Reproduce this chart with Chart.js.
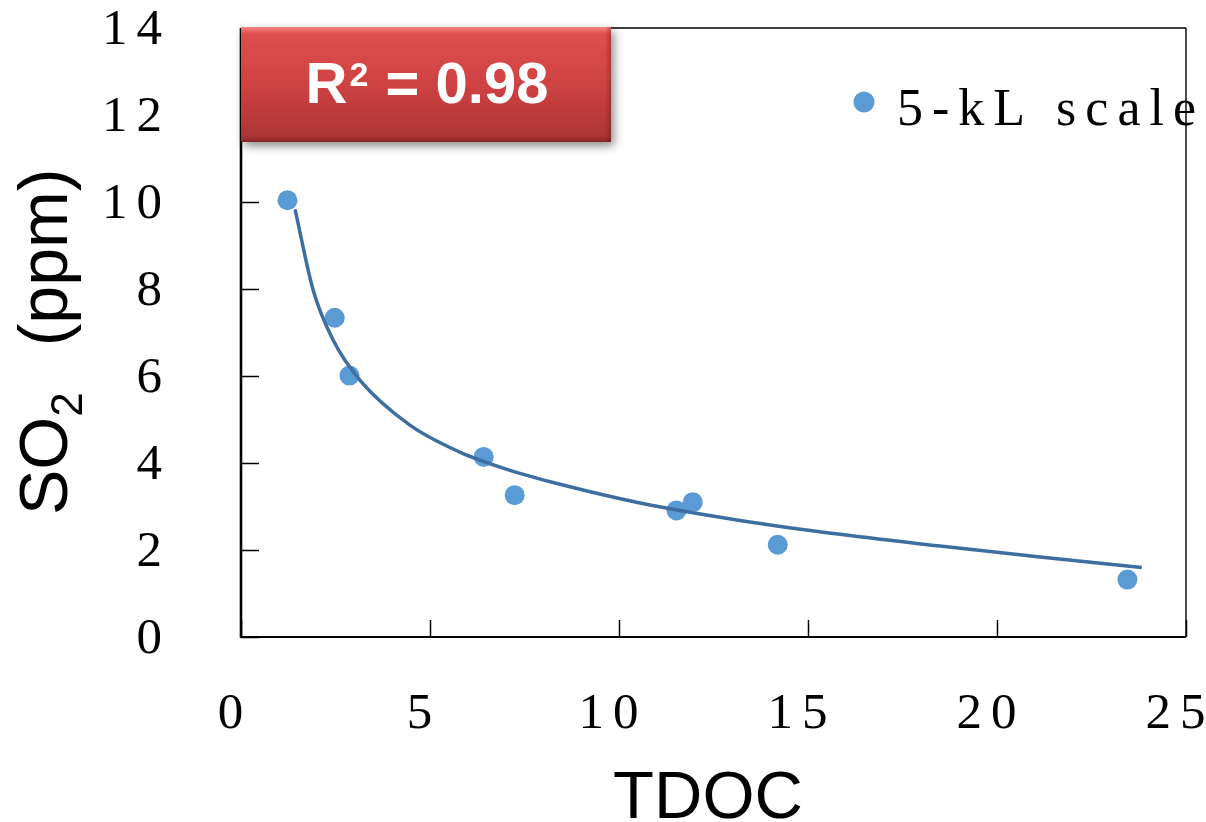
<!DOCTYPE html>
<html>
<head>
<meta charset="utf-8">
<script src="https://cdn.jsdelivr.net/npm/chart.js@4/dist/chart.umd.min.js"></script>
<style>
  html, body { margin: 0; padding: 0; background: #ffffff; }
  #wrap { width: 1206px; height: 822px; }
</style>
</head>
<body>
<div id="wrap"><canvas id="chart" width="1206" height="822"></canvas></div>
<script>
// Measured samples: TDOC vs SO2
const tdoc = [1.23, 2.48, 2.87, 6.42, 7.24, 11.52, 11.95, 14.2, 23.45];
const so2 = [10.04, 7.34, 6.01, 4.14, 3.26, 2.91, 3.1, 2.12, 1.32];

// Trend curve through the samples
const fitTdoc = [1.43, 1.91, 2.44, 3.15, 4.47, 5.79, 7.12, 8.44, 10.56, 13.2, 15.85, 18.49, 21.14, 23.83];
const fitSo2 = [9.83, 7.97, 6.82, 5.9, 4.87, 4.25, 3.83, 3.51, 3.08, 2.68, 2.36, 2.09, 1.84, 1.6];

// Axis ticks and labels
const xTicks = [0, 5, 10, 15, 20, 25];
const yTicks = [0, 2, 4, 6, 8, 10, 12, 14];
const seriesName = '5-kL scale';
const r2Base = 'R';
const r2Sup = '2';
const r2Value = ' = 0.98';
const xTitle = 'TDOC';
const yTitleMain = 'SO';
const yTitleSub = '2';
const yTitleUnit = '(ppm)';

const SERIF = '"Liberation Serif", "Times New Roman", serif';
const SANS = '"Liberation Sans", Arial, sans-serif';
const POINT_COLOR = '#5b9bd5';
const CURVE_COLOR = '#3e6d9f';

// Letter spacing for the tick labels only
const tickSpacing = {
  id: 'tickSpacing',
  beforeDraw(chart) { chart.ctx.letterSpacing = '9px'; },
  beforeDatasetsDraw(chart) { chart.ctx.letterSpacing = '0px'; }
};

function line(ctx, x1, y1, x2, y2) {
  ctx.beginPath();
  ctx.moveTo(x1, y1);
  ctx.lineTo(x2, y2);
  ctx.stroke();
}

const decor = {
  id: 'decor',
  afterDraw(chart) {
    const { ctx, chartArea: a, scales: { x, y } } = chart;
    ctx.save();
    ctx.letterSpacing = '0px';
    ctx.strokeStyle = '#000';

    // plot frame
    ctx.lineWidth = 1.4;
    line(ctx, a.left, a.top, a.right, a.top);
    line(ctx, a.right, a.top, a.right, a.bottom);
    ctx.lineWidth = 2.6;
    line(ctx, a.left, a.top, a.left, a.bottom + 1);
    ctx.lineWidth = 2;
    line(ctx, a.left, a.bottom, a.right, a.bottom);

    // inward tick marks
    ctx.lineWidth = 1.5;
    xTicks.forEach(v => {
      const px = Math.round(x.getPixelForValue(v)) + 0.5;
      line(ctx, px, a.bottom, px, a.bottom - 17);
    });
    yTicks.forEach(v => {
      const py = Math.round(y.getPixelForValue(v)) + 0.5;
      line(ctx, a.left, py, a.left + 18, py);
    });

    // R² badge
    const bx = a.left, by = a.top - 1, bw = 370, bh = 115;
    ctx.save();
    ctx.shadowColor = 'rgba(0,0,0,0.45)';
    ctx.shadowBlur = 9;
    ctx.shadowOffsetX = 3;
    ctx.shadowOffsetY = 4;
    const g = ctx.createLinearGradient(0, by, 0, by + bh);
    g.addColorStop(0, '#e24f4f');
    g.addColorStop(0.5, '#cf4242');
    g.addColorStop(1, '#a93434');
    ctx.fillStyle = g;
    ctx.fillRect(bx, by, bw, bh);
    ctx.restore();
    // bevel highlights
    const gt = ctx.createLinearGradient(0, by, 0, by + 7);
    gt.addColorStop(0, 'rgba(255,150,150,0.75)');
    gt.addColorStop(1, 'rgba(255,150,150,0)');
    ctx.fillStyle = gt;
    ctx.fillRect(bx, by, bw, 7);
    const gb = ctx.createLinearGradient(0, by + bh - 6, 0, by + bh);
    gb.addColorStop(0, 'rgba(90,20,20,0)');
    gb.addColorStop(1, 'rgba(90,20,20,0.45)');
    ctx.fillStyle = gb;
    ctx.fillRect(bx, by + bh - 6, bw, 6);
    const gr = ctx.createLinearGradient(bx + bw - 6, 0, bx + bw, 0);
    gr.addColorStop(0, 'rgba(90,20,20,0)');
    gr.addColorStop(1, 'rgba(90,20,20,0.35)');
    ctx.fillStyle = gr;
    ctx.fillRect(bx + bw - 6, by, 6, bh);

    // "R" + raised "2" + " = 0.98", centred in the badge
    ctx.fillStyle = '#ffffff';
    ctx.textAlign = 'left';
    ctx.textBaseline = 'alphabetic';
    const bigFont = 'bold 58px ' + SANS;
    const supFont = 'bold 34px ' + SANS;
    ctx.font = bigFont;
    const wR = ctx.measureText(r2Base).width;
    const wV = ctx.measureText(r2Value).width;
    ctx.font = supFont;
    const wS = ctx.measureText(r2Sup).width + 3;
    let tx = bx + bw / 2 + 1 - (wR + wS + wV) / 2;
    ctx.font = bigFont;
    ctx.fillText(r2Base, tx, 103);
    tx += wR + 2;
    ctx.font = supFont;
    ctx.fillText(r2Sup, tx, 86);
    tx += wS - 2;
    ctx.font = bigFont;
    ctx.fillText(r2Value, tx, 103);

    // legend
    ctx.fillStyle = POINT_COLOR;
    ctx.beginPath();
    ctx.arc(864, 102, 10.5, 0, Math.PI * 2);
    ctx.fill();
    ctx.fillStyle = '#000';
    ctx.font = '52px ' + SERIF;
    ctx.letterSpacing = '9px';
    ctx.textAlign = 'left';
    ctx.fillText(seriesName, 897, 125);
    ctx.letterSpacing = '0px';

    // x axis title
    ctx.font = '67px ' + SANS;
    ctx.textAlign = 'center';
    ctx.fillText(xTitle, 708, 818);

    // y axis title, rotated
    ctx.save();
    ctx.translate(67, 515);
    ctx.rotate(-Math.PI / 2);
    ctx.textAlign = 'left';
    ctx.font = '68px ' + SANS;
    ctx.fillText(yTitleMain, 0, 0);
    let off = ctx.measureText(yTitleMain).width;
    ctx.font = '44px ' + SANS;
    ctx.fillText(yTitleSub, off, 15);
    off += ctx.measureText(yTitleSub).width + 46;
    ctx.font = '68px ' + SANS;
    ctx.fillText(yTitleUnit, off, 0);
    ctx.restore();

    ctx.restore();
  }
};

new Chart(document.getElementById('chart'), {
  type: 'scatter',
  data: {
    datasets: [
      {
        label: seriesName,
        data: tdoc.map((v, i) => ({ x: v, y: so2[i] })),
        backgroundColor: POINT_COLOR,
        borderColor: POINT_COLOR,
        pointRadius: 10,
        pointHoverRadius: 10,
        pointBorderWidth: 0,
        order: 2
      },
      {
        type: 'line',
        label: 'trend',
        data: fitTdoc.map((v, i) => ({ x: v, y: fitSo2[i] })),
        showLine: true,
        borderColor: CURVE_COLOR,
        borderWidth: 3.5,
        pointRadius: 0,
        fill: false,
        cubicInterpolationMode: 'monotone',
        order: 1
      }
    ]
  },
  options: {
    animation: false,
    responsive: false,
    devicePixelRatio: 1,
    layout: { padding: { left: 0, right: 20, top: 28, bottom: 0 } },
    plugins: { legend: { display: false }, tooltip: { enabled: false } },
    scales: {
      x: {
        type: 'linear',
        min: 0,
        max: 25,
        afterBuildTicks(s) { s.ticks = xTicks.map(v => ({ value: v })); },
        ticks: {
          color: '#000',
          padding: 47,
          labelOffset: -6,
          maxRotation: 0,
          font: { family: SERIF, size: 51 }
        },
        grid: { display: false, drawTicks: false },
        border: { display: false },
        afterFit(s) { s.height = 185; s.paddingLeft = 0; s.paddingRight = 0; }
      },
      y: {
        type: 'linear',
        min: 0,
        max: 14,
        afterBuildTicks(s) { s.ticks = yTicks.map(v => ({ value: v })); },
        ticks: {
          color: '#000',
          padding: 70,
          labelOffset: 3,
          font: { family: SERIF, size: 51, lineHeight: 1 }
        },
        grid: { display: false, drawTicks: false },
        border: { display: false },
        afterFit(s) { s.width = 241; s.paddingTop = 0; s.paddingBottom = 0; }
      }
    }
  },
  plugins: [tickSpacing, decor]
});
</script>
</body>
</html>
